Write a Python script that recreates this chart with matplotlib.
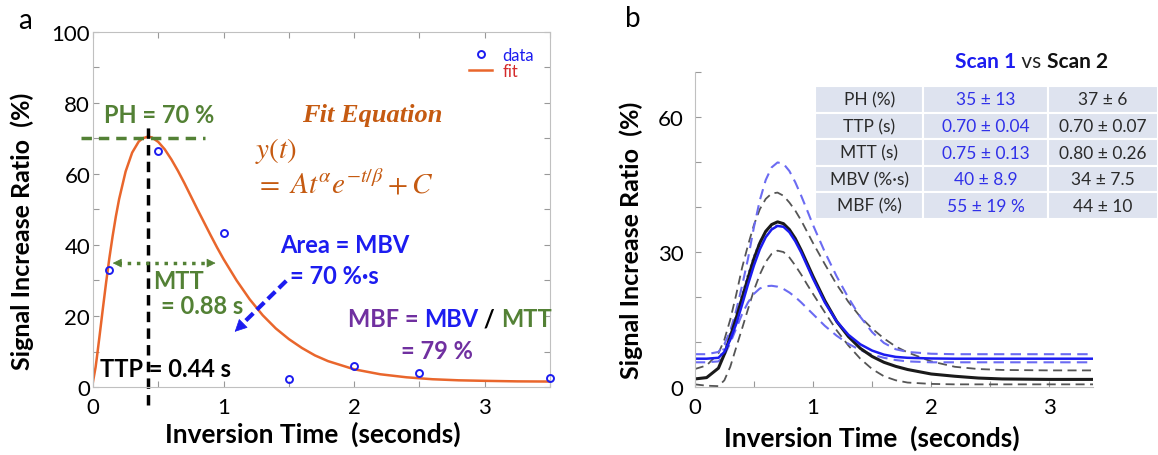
import numpy as np
import matplotlib.pyplot as plt

plt.rcParams['font.family'] = ['Lato', 'DejaVu Sans']
plt.rcParams['mathtext.fontset'] = 'stix'

# ---- panel a : one measurement and its gamma-variate fit
t_data = [0.12, 0.5, 1.0, 1.5, 2.0, 2.5, 3.5]
y_data = [33.0, 66.5, 43.5, 2.2, 5.9, 4.0, 2.5]

t_fit = [0, 0.02, 0.03, 0.05, 0.075, 0.1, 0.125, 0.15, 0.175, 0.2, 0.25, 0.3, 0.35,
         0.38, 0.42, 0.45, 0.5, 0.55, 0.6, 0.65, 0.7, 0.75, 0.8, 0.85, 0.9, 0.95,
         1.0, 1.1, 1.2, 1.3, 1.4, 1.5, 1.6, 1.7, 1.8, 2.0, 2.2, 2.4, 2.6, 2.8,
         3.0, 3.25, 3.5]
y_fit = [1.5, 5.6, 8.4, 14.3, 21.9, 29.3, 36.2, 42.4, 48.0, 52.9, 60.7, 66.0, 69.1,
         70.0, 70.5, 70.3, 69.0, 66.9, 64.1, 60.9, 57.4, 53.7, 50.0, 46.4, 42.8, 39.3,
         36.0, 30.0, 24.7, 20.2, 16.5, 13.5, 11.0, 8.9, 7.3, 5.0, 3.6, 2.75, 2.2, 1.9,
         1.75, 1.6, 1.55]

ttp_a = 0.42
ph_a = 70

# ---- panel b : mean +/- SD curves of two scans
t_b = [0, 0.1, 0.2, 0.25, 0.3, 0.35, 0.4, 0.45, 0.5, 0.55, 0.6, 0.65, 0.7, 0.75,
       0.8, 0.85, 0.9, 0.95, 1.0, 1.1, 1.2, 1.3, 1.4, 1.5, 1.6, 1.7, 1.8, 2.0,
       2.2, 2.4, 2.6, 3.0, 3.37]
scan1_mean = [6.3, 6.3, 6.5, 7.8, 10.5, 14.0, 18.3, 22.8, 27.0, 30.6, 33.3, 35.0, 35.8,
              35.6, 34.4, 32.4, 29.9, 27.0, 24.1, 18.8, 14.6, 11.6, 9.5, 8.1, 7.2, 6.7,
              6.5, 6.35, 6.3, 6.3, 6.3, 6.3, 6.3]
scan1_hi = [7.3, 7.3, 7.8, 9.5, 12.5, 17.0, 22.5, 28.5, 35.5, 41.5, 46.0, 48.8, 49.9,
            49.6, 48.0, 45.5, 42.5, 39.3, 36.0, 30.0, 24.6, 19.8, 15.6, 12.2, 9.8, 8.4,
            7.8, 7.4, 7.3, 7.3, 7.3, 7.3, 7.3]
scan1_lo = [5.5, 5.5, 5.7, 7.0, 9.8, 13.0, 16.2, 18.8, 20.7, 21.9, 22.4, 22.5, 22.3,
            21.8, 21.0, 20.0, 18.8, 17.5, 16.2, 13.6, 11.4, 9.6, 8.2, 7.2, 6.5, 6.0,
            5.7, 5.5, 5.5, 5.5, 5.5, 5.5, 5.5]
scan2_mean = [1.8, 2.1, 4.2, 7.3, 11.2, 15.3, 19.8, 24.2, 28.5, 32.0, 34.6, 36.1, 36.7,
              36.3, 35.0, 33.0, 30.4, 27.5, 24.6, 19.2, 14.6, 11.2, 8.6, 6.8, 5.5, 4.6,
              3.9, 2.9, 2.4, 2.0, 1.8, 1.7, 1.7]
scan2_hi = [4.0, 4.8, 7.5, 10.5, 15.0, 20.5, 26.5, 31.5, 36.0, 39.5, 41.8, 43.0, 43.2,
            42.5, 41.0, 39.2, 37.0, 34.5, 32.0, 27.3, 22.8, 18.9, 15.6, 13.0, 10.8, 9.0,
            7.7, 5.7, 4.5, 4.0, 3.8, 3.7, 3.7]
scan2_lo = [0.6, 0.3, 0.2, 1.5, 4.5, 8.8, 13.0, 17.3, 21.5, 25.0, 27.8, 29.6, 30.3,
            30.0, 28.8, 27.0, 25.0, 22.8, 20.7, 16.6, 12.6, 9.2, 6.3, 4.0, 2.4, 1.5,
            1.0, 0.7, 0.6, 0.6, 0.6, 0.6, 0.6]
t_dot = [0.22, 0.3, 0.35, 0.4, 0.45, 0.5, 0.55, 0.6, 0.65, 0.7]
scan1_dot = [7.0, 12.0, 16.0, 20.5, 25.0, 29.0, 32.3, 34.5, 35.6, 35.9]

row_labels = ['PH (%)', 'TTP (s)', 'MTT (s)', 'MBV (%·s)', 'MBF (%)']
scan1_vals = ['35 ± 13', '0.70 ± 0.04', '0.75 ± 0.13', '40 ± 8.9', '55 ± 19 %']
scan2_vals = ['37 ± 6', '0.70 ± 0.07', '0.80 ± 0.26', '34 ± 7.5', '44 ± 10']

ORANGE = '#E9662C'
ORANGE_T = '#C55A11'
BLUE = '#1C1CF0'
GREEN = '#538135'
PURPLE = '#7030A0'
SPINE = '#c0c0c0'

fig = plt.figure(figsize=(11.58, 4.56), dpi=100)

# ================= panel a
ax = fig.add_axes([0.0803, 0.149, 0.3947, 0.779])
l_fit, = ax.plot(t_fit, y_fit, color=ORANGE, lw=1.8)
l_dat, = ax.plot(t_data, y_data, 'o', mfc='none', mec=BLUE, mew=1.4, ms=5, clip_on=False, zorder=5)
ax.set_xlim(0, 3.5)
ax.set_ylim(0, 100)
ax.set_xticks(np.arange(0, 3.51, 0.5))
ax.set_xticklabels(['0', '', '1', '', '2', '', '3', ''])
ax.set_yticks(np.arange(0, 101, 10))
ax.set_yticklabels(['0', '', '20', '', '40', '', '60', '', '80', '', '100'])
ax.tick_params(direction='in', length=4, color='#999999', labelsize=16, top=True, right=True)
ax.tick_params(axis='x', pad=7)
ax.tick_params(axis='y', pad=2)
for s in ax.spines.values():
    s.set_color(SPINE)
ax.set_xlabel('Inversion Time  (seconds)', fontsize=19, fontweight='bold')
ax.xaxis.set_label_coords(0.48, -0.095)
ax.set_ylabel('Signal Increase Ratio  (%)', fontsize=18, fontweight='bold')
ax.yaxis.set_label_coords(-0.13, 0.44)

leg = ax.legend([l_dat, l_fit], ['data', 'fit'], loc='upper right', frameon=False,
                fontsize=12, labelcolor=[BLUE, '#D42A2A'], handlelength=1.4,
                handletextpad=0.6, labelspacing=0.0, borderaxespad=0.3,
                bbox_to_anchor=(0.99, 0.99))

# peak height and time to peak
ax.plot([-0.09, 0.86], [ph_a, ph_a], '--', color=GREEN, lw=2.5, dashes=(3, 2), clip_on=False)
ax.plot([ttp_a, ttp_a], [-5, 74], '--', color='black', lw=2.5, dashes=(3, 1.8), clip_on=False)
ax.text(0.51, 76.6, 'PH = 70 %', color=GREEN, fontsize=17, fontweight='bold', ha='center', va='center')
ax.text(0.05, 5.1, 'TTP = 0.44 s', color='black', fontsize=17, fontweight='bold', ha='left', va='center')

# mean transit time
ax.plot([0.19, 0.90], [34.9, 34.9], ':', color=GREEN, lw=2.5)
ax.annotate('', xy=(0.13, 34.9), xytext=(0.22, 34.9),
            arrowprops=dict(arrowstyle='-|>', color=GREEN, lw=0.5, mutation_scale=14))
ax.annotate('', xy=(0.96, 34.9), xytext=(0.87, 34.9),
            arrowprops=dict(arrowstyle='-|>', color=GREEN, lw=0.5, mutation_scale=14))
ax.text(0.46, 29.9, 'MTT', color=GREEN, fontsize=17, fontweight='bold', va='center')
ax.text(0.52, 22.9, '= 0.88 s', color=GREEN, fontsize=17, fontweight='bold', va='center')

# fit equation
ax.text(1.60, 76.6, 'Fit Equation', color=ORANGE_T, fontsize=19, fontweight='bold',
        fontstyle='italic', family='Liberation Serif', va='center')
ax.text(1.24, 66.8, r'$y(t)$', color=ORANGE_T, fontsize=21, va='center')
ax.text(1.24, 57.5, r'$=\ At^{\alpha}e^{-t/\beta} + C$', color=ORANGE_T, fontsize=21, va='center')

# area = blood volume
ax.text(1.43, 40.2, 'Area = MBV', color=BLUE, fontsize=17, fontweight='bold', va='center')
ax.text(1.51, 31.3, '= 70 %·s', color=BLUE, fontsize=17, fontweight='bold', va='center')
ax.plot([1.48, 1.12], [29.9, 16.9], '--', color=BLUE, lw=3, dashes=(2.5, 1.2))
ax.annotate('', xy=(1.07, 15.0), xytext=(1.15, 17.9),
            arrowprops=dict(arrowstyle='-|>', color=BLUE, lw=0.5, mutation_scale=20))

# blood flow
t1 = ax.text(1.95, 19.2, 'MBF = ', color=PURPLE, fontsize=17, fontweight='bold', va='center')
t2 = ax.annotate('MBV', xycoords=t1, xy=(1, 0), va='bottom', color=BLUE, fontsize=17,
                 fontweight='bold', annotation_clip=False)
t3 = ax.annotate(' / ', xycoords=t2, xy=(1, 0), va='bottom', color='black', fontsize=17,
                 fontweight='bold', annotation_clip=False)
ax.annotate('MTT', xycoords=t3, xy=(1, 0), va='bottom', color=GREEN, fontsize=17,
            fontweight='bold', annotation_clip=False)
ax.text(2.36, 10.3, '= 79 %', color=PURPLE, fontsize=17, fontweight='bold', va='center')

fig.text(0.016, 0.955, 'a', fontsize=20, va='center')

# ================= panel b
bx = fig.add_axes([0.600, 0.149, 0.344, 0.691])
bx.plot(t_b, scan2_hi, '--', color='#555555', lw=1.3, dashes=(5, 3))
bx.plot(t_b, scan2_lo, '--', color='#555555', lw=1.3, dashes=(5, 3))
bx.plot(t_b, scan1_hi, '--', color='#6B6BF2', lw=1.5, dashes=(5, 3))
bx.plot(t_b, scan1_lo, '--', color='#6B6BF2', lw=1.5, dashes=(5, 3))
bx.plot(t_dot, scan1_dot, ':', color='#6B6BF2', lw=1.5)
bx.plot(t_b, scan2_mean, color='#1a1a1a', lw=2.2)
bx.plot(t_b, scan1_mean, color=BLUE, lw=1.8)
bx.set_xlim(0, 3.37)
bx.set_ylim(0, 70)
bx.set_xticks(np.arange(0, 3.01, 0.5))
bx.set_xticklabels(['0', '', '1', '', '2', '', '3'])
bx.set_yticks(np.arange(0, 71, 10))
bx.set_yticklabels(['0', '', '', '30', '', '', '60', ''])
bx.tick_params(direction='in', length=4, color='#999999', labelsize=16)
bx.tick_params(axis='x', pad=7)
bx.tick_params(axis='y', pad=8)
bx.spines['top'].set_visible(False)
bx.spines['right'].set_visible(False)
bx.spines['left'].set_color(SPINE)
bx.spines['bottom'].set_color(SPINE)
bx.set_xlabel('Inversion Time  (seconds)', fontsize=19, fontweight='bold')
bx.xaxis.set_label_coords(0.445, -0.118)
bx.set_ylabel('Signal Increase Ratio  (%)', fontsize=18, fontweight='bold')
bx.yaxis.set_label_coords(-0.13, 0.47)

fig.text(0.540, 0.958, 'b', fontsize=20, va='center')

# summary table
tx = fig.add_axes([0.704, 0.5175, 0.296, 0.2915])
tx.axis('off')
cells = [[row_labels[i], scan1_vals[i], scan2_vals[i]] for i in range(len(row_labels))]
tab = tx.table(cellText=cells, bbox=[0, 0, 1, 1], cellLoc='center',
               colWidths=[0.315, 0.364, 0.321])
tab.auto_set_font_size(False)
for (r, c), cell in tab.get_celld().items():
    cell.set_facecolor('#DEE3EF')
    cell.set_edgecolor('white')
    cell.set_linewidth(1.5)
    cell.get_text().set_fontsize(12.5)
    cell.get_text().set_color(['#2a2a2a', '#3030E8', '#2a2a2a'][c])

h1 = fig.text(0.8247, 0.864, 'Scan 1', color=BLUE, fontsize=15, fontweight='bold', va='center')
h2 = bx.annotate(' vs ', xycoords=h1, xy=(1, 0), va='bottom', fontsize=15,
                 color='#222222', annotation_clip=False)
bx.annotate('Scan 2', xycoords=h2, xy=(1, 0), va='bottom', fontsize=15, fontweight='bold',
            color='#111111', annotation_clip=False)

fig.savefig('out.png', dpi=100)
